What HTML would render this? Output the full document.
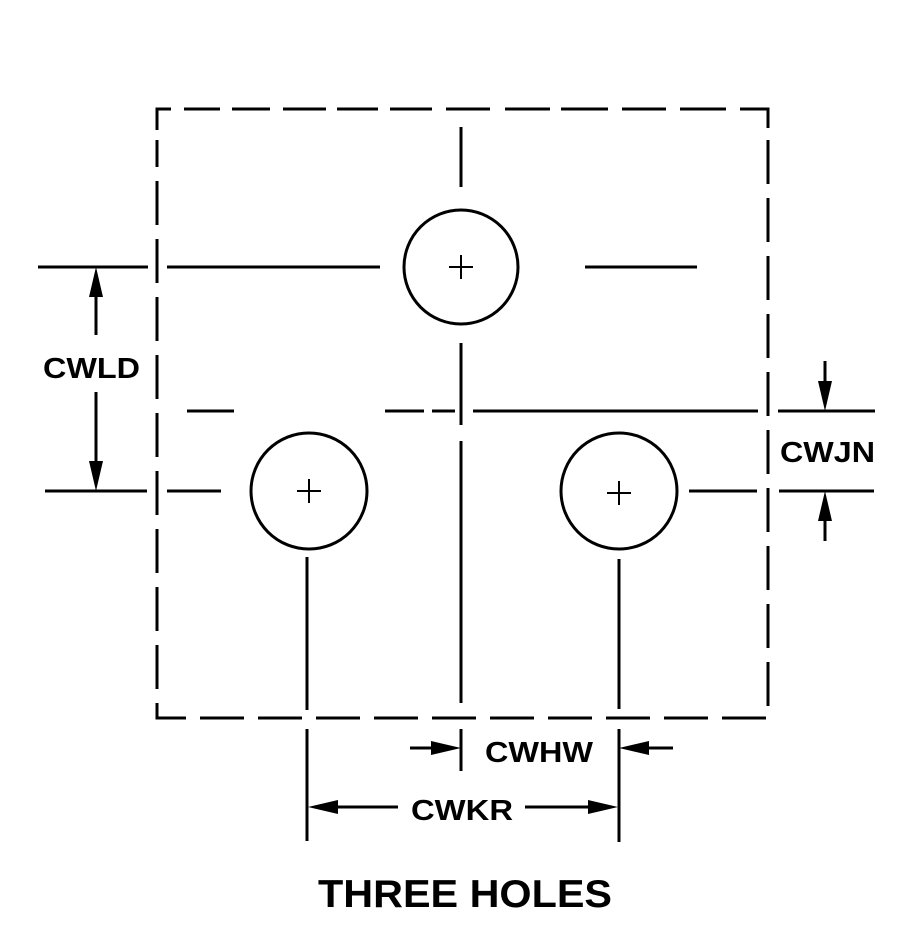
<!DOCTYPE html>
<html><head><style>
html,body{margin:0;padding:0;background:#fff;}
svg{display:block;}
text{font-family:"Liberation Sans",Arial,sans-serif;font-weight:bold;fill:#000;}
</style></head><body>
<svg width="908" height="952" viewBox="0 0 908 952" xmlns="http://www.w3.org/2000/svg">
<g stroke="#000" stroke-width="3" fill="none">
<!-- dashed rectangle -->
<path d="M157,130 V109 H171 M184,109H220 M232,109H270 M283,109H326 M337,109H378 M390,109H432 M446,109H490 M505,109H550 M561,109H608 M622,109H666 M680,109H726 M740,109H768 V128"/>
<path d="M768,140 V718 H157 V140" stroke-dasharray="44 14"/>
<!-- circles -->
<circle cx="461" cy="267" r="57"/>
<circle cx="309" cy="491" r="58"/>
<circle cx="619" cy="491" r="58"/>
</g>
<g stroke="#000" stroke-width="2">
<path d="M449,267H473 M461,255V279 M297,491H321 M309,479V503 M607,493H631 M619,481V505"/>
</g>
<g stroke="#000" stroke-width="3" fill="none">
<!-- center lines -->
<path d="M461,127V187 M461,343V425 M461,441V703 M461,729V771"/>
<path d="M307,557V710 M307,729V841"/>
<path d="M619,559V709 M619,729V842"/>
<path d="M38,267H148 M167,267H380 M585,267H697"/>
<path d="M187,411H234 M385,411H424 M432,411H455 M473,411H758 M778,411H875"/>
<path d="M45,491H147 M167,491H221 M689,491H757 M779,491H874"/>
<!-- dimension lines -->
<path d="M96,290V335 M96,392V468"/>
<path d="M825,361V385 M825,517V541"/>
<path d="M410,748H440 M673,748H640"/>
<path d="M398,807H330 M525,807H596"/>
</g>
<g fill="#000">
<polygon points="96,267 89,297 103,297"/>
<polygon points="96,491 89,461 103,461"/>
<polygon points="825,411 818,381 832,381"/>
<polygon points="825,491 818,521 832,521"/>
<polygon points="461,748 431,741 431,755"/>
<polygon points="619,748 649,741 649,755"/>
<polygon points="308,807 338,800 338,814"/>
<polygon points="618,807 588,800 588,814"/>
</g>
<text x="43" y="378" font-size="29" textLength="97" lengthAdjust="spacingAndGlyphs">CWLD</text>
<text x="780" y="462" font-size="29" textLength="95" lengthAdjust="spacingAndGlyphs">CWJN</text>
<text x="485" y="762" font-size="29" textLength="108" lengthAdjust="spacingAndGlyphs">CWHW</text>
<text x="411" y="820" font-size="29" textLength="102" lengthAdjust="spacingAndGlyphs">CWKR</text>
<text x="318" y="907" font-size="39" textLength="294" lengthAdjust="spacingAndGlyphs">THREE HOLES</text>
</svg>
</body></html>
